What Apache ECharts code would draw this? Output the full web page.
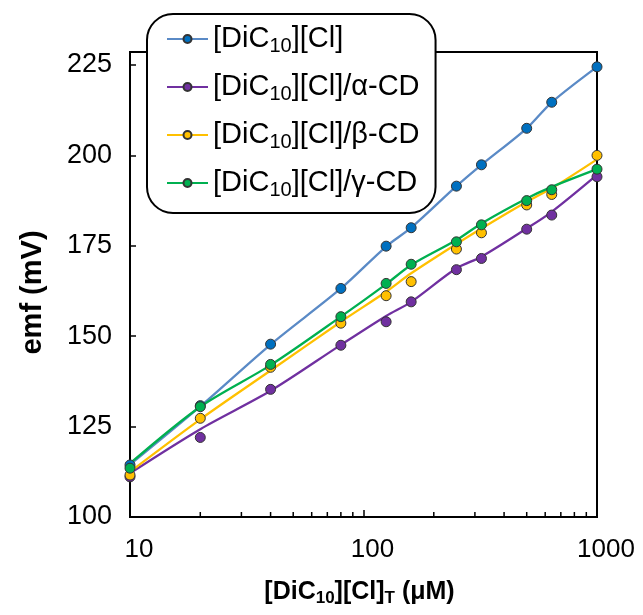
<!DOCTYPE html>
<html>
<head>
<meta charset="utf-8">
<script src="https://cdn.jsdelivr.net/npm/echarts@6/dist/echarts.min.js"></script>
<style>
  html, body { margin: 0; padding: 0; background: #fff; }
  #chart { width: 643px; height: 615px; }
</style>
</head>
<body>
<div id="chart"></div>
<script>
// concentrations (uM)
var conc = [10, 20, 40, 80, 125, 160, 250, 320, 500, 640, 1000];

var ptsPure  = [114.4, 130.8, 147.8, 163.2, 174.9, 180.0, 191.5, 197.4, 207.5, 214.7, 224.5];
var ptsAlpha = [111.1, 122.0, 135.3, 147.5, 154.0, 159.5, 168.4, 171.5, 179.6, 183.5, 194.1];
var ptsBeta  = [111.6, 127.3, 141.4, 153.6, 161.2, 165.1, 174.1, 178.6, 186.3, 189.2, 200.0];
var ptsGamma = [113.5, 130.5, 142.2, 155.4, 164.6, 169.9, 176.1, 180.8, 187.5, 190.5, 196.2];

// fitted curves at the same concentrations
var fitPure  = [114.5, 130.6, 147.7, 163.2, 174.8, 180.0, 191.5, 197.4, 207.5, 214.7, 224.5];
var fitAlpha = [112.1, 124.3, 134.9, 147.6, 155.6, 159.5, 168.8, 172.0, 179.8, 184.4, 194.6];
var fitBeta  = [112.5, 127.0, 140.5, 154.0, 162.3, 167.4, 175.5, 179.8, 187.2, 190.9, 198.9];
var fitGamma = [114.8, 130.5, 142.0, 155.4, 164.4, 169.7, 176.6, 181.2, 188.1, 191.3, 196.2];

var names = ['[DiC10][Cl]', '[DiC10][Cl]/α-CD', '[DiC10][Cl]/β-CD', '[DiC10][Cl]/γ-CD'];
var minorTicks = [20, 30, 40, 50, 60, 70, 80, 90, 200, 300, 400, 500, 600, 700, 800, 900];
var yMin = 100, yMax = 228.6;

var dotColors = ['#0070C0', '#7030A0', '#FFC000', '#00B050'];
var lineColors = ['#5A8AC6', '#7030A0', '#FFC000', '#00B050'];
var font = 'Liberation Sans, Arial, sans-serif';

function pairs(xs, ys) {
    var out = [];
    for (var i = 0; i < xs.length; i++) {
        out.push([xs[i], ys[i]]);
    }
    return out;
}

var pts = [ptsPure, ptsAlpha, ptsBeta, ptsGamma];
var fits = [fitPure, fitAlpha, fitBeta, fitGamma];
var series = [];
for (var k = 0; k < 4; k++) {
    series.push({
        name: names[k],
        type: 'line',
        data: pairs(conc, fits[k]),
        smooth: 0.3,
        symbol: 'circle',
        showSymbol: false,
        lineStyle: { color: lineColors[k], width: 2.3 },
        itemStyle: { color: dotColors[k], borderColor: '#333', borderWidth: 1 },
        z: 2
    });
}
for (var k = 0; k < 4; k++) {
    series.push({
        name: 'pts' + k,
        type: 'scatter',
        data: pairs(conc, pts[k]),
        symbolSize: 10,
        itemStyle: { color: dotColors[k], borderColor: '#333', borderWidth: 1, opacity: 1 },
        z: 3
    });
}
// minor log ticks on the x axis
series.push({
    type: 'custom',
    silent: true,
    data: minorTicks.map(function (v) { return [v, yMin]; }),
    renderItem: function (params, api) {
        var p = api.coord([api.value(0), api.value(1)]);
        return {
            type: 'line',
            shape: { x1: p[0], y1: p[1], x2: p[0], y2: p[1] - 5 },
            style: { stroke: '#000', lineWidth: 1.5 }
        };
    },
    z: 4
});

var chart = echarts.init(document.getElementById('chart'));
var option = {
    animation: false,
    grid: {
        left: 130, right: 46, top: 52, bottom: 98,
        show: true, borderColor: '#000', borderWidth: 2, backgroundColor: 'transparent'
    },
    legend: {
        data: names,
        orient: 'vertical',
        left: 147, top: 14,
        padding: [8, 16, 13, 19],
        itemGap: 14,
        itemWidth: 41, itemHeight: 10,
        backgroundColor: '#fff',
        borderColor: '#000', borderWidth: 2, borderRadius: 26,
        formatter: function (name) {
            return name.replace('DiC10', 'DiC{sub|10}');
        },
        textStyle: {
            fontFamily: font, fontSize: 29, color: '#000', lineHeight: 34,
            rich: {
                sub: { fontFamily: font, fontSize: 20, color: '#000', verticalAlign: 'bottom', lineHeight: 20 }
            }
        }
    },
    xAxis: {
        type: 'log',
        logBase: 10,
        min: 10, max: 1000,
        name: '[DiC{sub|10}][Cl]{sub|T} (μM)',
        nameLocation: 'middle',
        nameGap: 60,
        nameTextStyle: {
            fontFamily: font, fontSize: 25, fontWeight: 'bold', color: '#000', lineHeight: 30,
            padding: [0, 8, 0, 0],
            rich: {
                sub: { fontFamily: font, fontSize: 17, fontWeight: 'bold', color: '#000', verticalAlign: 'bottom', lineHeight: 17 }
            }
        },
        axisLine: { lineStyle: { color: '#000', width: 2 } },
        axisTick: { inside: true, length: 7, lineStyle: { color: '#000', width: 1.5 } },
        axisLabel: {
            fontFamily: font, fontSize: 26, color: '#000', margin: 20,
            padding: [0, 0, 0, 18],
            formatter: function (v) { return String(v); }
        },
        splitLine: { show: false }
    },
    yAxis: {
        type: 'value',
        min: yMin, max: yMax, interval: 25,
        name: 'emf (mV)',
        nameLocation: 'middle',
        nameGap: 83,
        nameTextStyle: { fontFamily: font, fontSize: 29, fontWeight: 'bold', color: '#000', padding: [0, 16, 0, 0] },
        axisLine: { lineStyle: { color: '#000', width: 2 } },
        axisTick: { inside: true, length: 6, lineStyle: { color: '#000', width: 1.5 } },
        axisLabel: { fontFamily: font, fontSize: 27, color: '#000', margin: 18, showMaxLabel: false },
        splitLine: { show: false }
    },
    series: series
};
chart.setOption(option);
</script>
</body>
</html>
